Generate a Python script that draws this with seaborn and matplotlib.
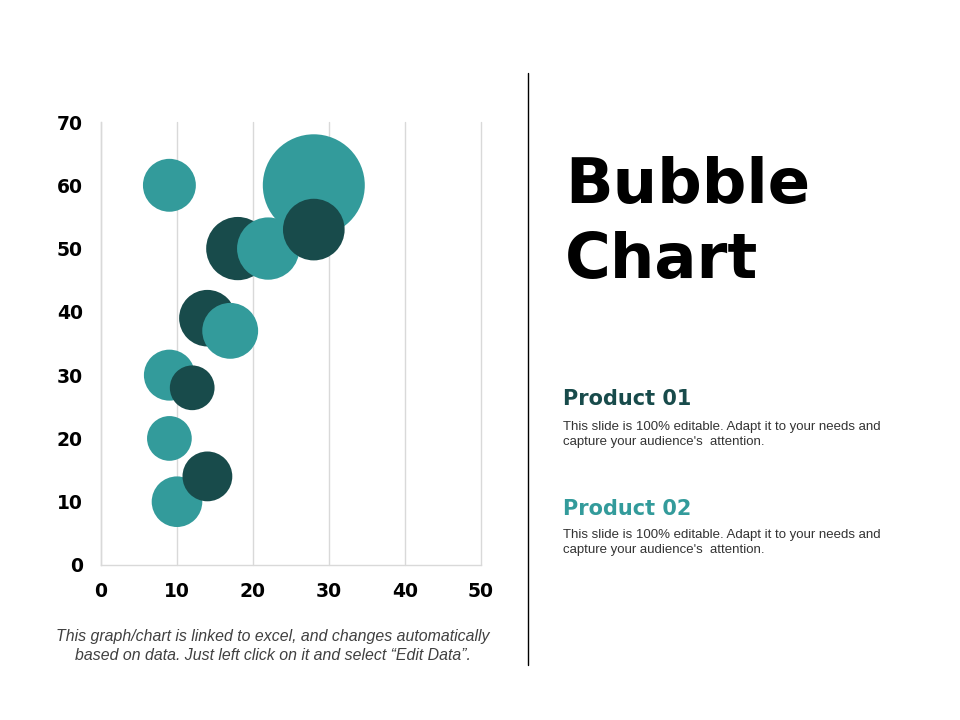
import matplotlib
matplotlib.use("Agg")
import matplotlib.pyplot as plt
import numpy as np
import pandas as pd
import seaborn as sns

sns.set_style("white")
plt.rcParams['font.family'] = ['DejaVu Sans']

# data
p1_x = [18, 28, 14, 12, 14]
p1_y = [50, 53, 39, 28, 14]
p1_size = [10, 9.5, 8, 5, 6.2]

p2_x = [9, 28, 22, 17, 9, 9, 10]
p2_y = [60, 60, 50, 37, 30, 20, 10]
p2_size = [7, 26, 9.7, 7.8, 6.5, 5, 6.4]

series_names = ["Product 01", "Product 02"]
colors = {"Product 01": "#184b4b", "Product 02": "#339b9b"}
x_ticks = [0, 10, 20, 30, 40, 50]
y_ticks = [0, 10, 20, 30, 40, 50, 60, 70]

df = pd.concat([
    pd.DataFrame({"x": p1_x, "y": p1_y, "size": p1_size, "series": series_names[0]}),
    pd.DataFrame({"x": p2_x, "y": p2_y, "size": p2_size, "series": series_names[1]}),
], ignore_index=True)
# bigger bubbles behind smaller ones, like excel does
df = df.sort_values("size", ascending=False, kind="stable").reset_index(drop=True)

fig = plt.figure(figsize=(9.6, 7.2), dpi=100)
ax = fig.add_axes([101/960, 1 - 565/720, 380/960, 443/720])

smax = df["size"].max()
sns.scatterplot(data=df, x="x", y="y", hue="series", palette=colors,
                size="size", sizes=(0, smax * 207.4), size_norm=(0, smax),
                linewidth=0, alpha=1, legend=False, ax=ax, zorder=3)

ax.set_xlim(0, 50)
ax.set_ylim(0, 70)
ax.set_xticks(x_ticks)
ax.set_yticks(y_ticks)
ax.set_xlabel("")
ax.set_ylabel("")
ax.grid(axis="x", color="#d9d9d9", linewidth=1)
ax.grid(axis="y", visible=False)
for gl in ax.get_xgridlines():
    gl.set_clip_on(False)
for side in ["top", "right"]:
    ax.spines[side].set_visible(False)
for side in ["left", "bottom"]:
    ax.spines[side].set_color("#d9d9d9")
    ax.spines[side].set_linewidth(1)
ax.tick_params(axis="both", length=0, labelsize=13.5, labelcolor="black")
ax.tick_params(axis="y", pad=13)
ax.tick_params(axis="x", pad=12)
for lab in ax.get_xticklabels() + ax.get_yticklabels():
    lab.set_fontweight("bold")
ax.set_facecolor("none")

# divider
fig.add_artist(plt.Line2D([528/960, 528/960], [1 - 73/720, 1 - 665/720],
                          color="black", linewidth=1))

# title
fig.text(565/960, 1 - 203/720, "Bubble", fontsize=45, fontweight="bold",
         va="baseline", ha="left", color="black")
fig.text(565/960, 1 - 278/720, "Chart", fontsize=45, fontweight="bold",
         va="baseline", ha="left", color="black")

body = "This slide is 100% editable. Adapt it to your needs and\ncapture your audience's  attention."
fig.text(563/960, 1 - 405/720, "Product 01", fontsize=15, fontweight="bold",
         color=colors["Product 01"], va="baseline")
fig.text(563/960, 1 - 421/720, body, fontsize=9.5, family="Liberation Sans",
         color="#333333", va="top", linespacing=1.3)
fig.text(563/960, 1 - 515/720, "Product 02", fontsize=15, fontweight="bold",
         color=colors["Product 02"], va="baseline")
fig.text(563/960, 1 - 529/720, body, fontsize=9.5, family="Liberation Sans",
         color="#333333", va="top", linespacing=1.3)

fig.text(273/960, 1 - 646/720,
         "This graph/chart is linked to excel, and changes automatically\n"
         "based on data. Just left click on it and select \u201cEdit Data\u201d.",
         fontsize=11.4, style="italic", family="Liberation Sans",
         color="#404040", ha="center", va="center", linespacing=1.28)

fig.savefig("out.png", dpi=100)
